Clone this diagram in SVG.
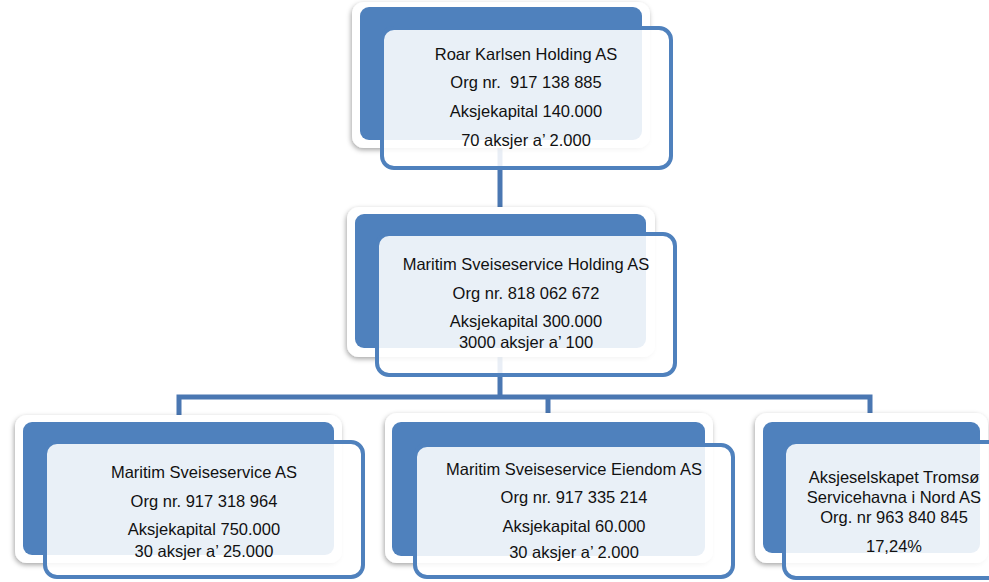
<svg xmlns="http://www.w3.org/2000/svg" width="989" height="582" viewBox="0 0 989 582">
<defs>
<filter id="sh" x="-10%" y="-10%" width="120%" height="130%">
<feDropShadow dx="-1" dy="2" stdDeviation="2.5" flood-color="#000" flood-opacity="0.35"/>
</filter>
</defs>
<style>
.bg{fill:#fff;filter:url(#sh)}
.bl{fill:#4f81bd}
.fr{fill:#fff;fill-opacity:0.88;stroke:#4f81bd;stroke-width:4}
.con{fill:none;stroke:#4a77b2;stroke-width:5}
text{font-family:"Liberation Sans",Arial,sans-serif;font-size:16.5px;fill:#111;text-anchor:middle}
</style>
<rect width="989" height="582" fill="#fff"/>
<g id="connectors">
<path class="con" d="M500 140 V214"/>
<path class="con" d="M500 348 V397"/>
<path class="con" d="M179 415 V397 H870 V415"/>
<path class="con" d="M548 397 V415"/>
</g>
<g id="n1">
<rect class="bg" x="352" y="2" width="298" height="146" rx="12"/>
<rect class="bl" x="360" y="7" width="282" height="133" rx="9"/>
<rect class="fr" x="382" y="28" width="289" height="140" rx="12"/>
<text x="526" y="60">Roar Karlsen Holding AS</text>
<text x="526" y="88" xml:space="preserve">Org nr.  917 138 885</text>
<text x="526" y="117">Aksjekapital 140.000</text>
<text x="526" y="146">70 aksjer a’ 2.000</text>
</g>
<g id="n2">
<rect class="bg" x="347" y="207" width="308" height="150" rx="12"/>
<rect class="bl" x="355" y="214" width="291" height="134" rx="9"/>
<rect class="fr" x="377" y="234" width="298" height="141" rx="12"/>
<text x="526" y="270">Maritim Sveiseservice Holding AS</text>
<text x="526" y="299">Org nr. 818 062 672</text>
<text x="526" y="327">Aksjekapital 300.000</text>
<text x="526" y="348">3000 aksjer a’ 100</text>
</g>
<g id="n3">
<rect class="bg" x="15" y="415" width="327" height="148" rx="12"/>
<rect class="bl" x="23" y="422" width="311" height="133" rx="9"/>
<rect class="fr" x="45" y="442" width="318" height="135" rx="12"/>
<text x="204" y="478">Maritim Sveiseservice AS</text>
<text x="204" y="507">Org nr. 917 318 964</text>
<text x="204" y="535">Aksjekapital 750.000</text>
<text x="204" y="557">30 aksjer a’ 25.000</text>
</g>
<g id="n4">
<rect class="bg" x="385" y="413" width="328" height="150" rx="12"/>
<rect class="bl" x="392" y="422" width="313" height="134" rx="9"/>
<rect class="fr" x="415" y="445" width="318" height="132" rx="12"/>
<text x="574" y="475">Maritim Sveiseservice Eiendom AS</text>
<text x="574" y="503">Org nr. 917 335 214</text>
<text x="574" y="532">Aksjekapital 60.000</text>
<text x="574" y="558">30 aksjer a’ 2.000</text>
</g>
<g id="n5">
<rect class="bg" x="755" y="413" width="233" height="150" rx="12"/>
<rect class="bl" x="763" y="422" width="217" height="131" rx="9"/>
<rect class="fr" x="784" y="442" width="216" height="136" rx="12"/>
<text x="894" y="483">Aksjeselskapet Tromsø</text>
<text x="894" y="503">Servicehavna i Nord AS</text>
<text x="894" y="523">Org. nr 963 840 845</text>
<text x="894" y="552">17,24%</text>
</g>
</svg>
